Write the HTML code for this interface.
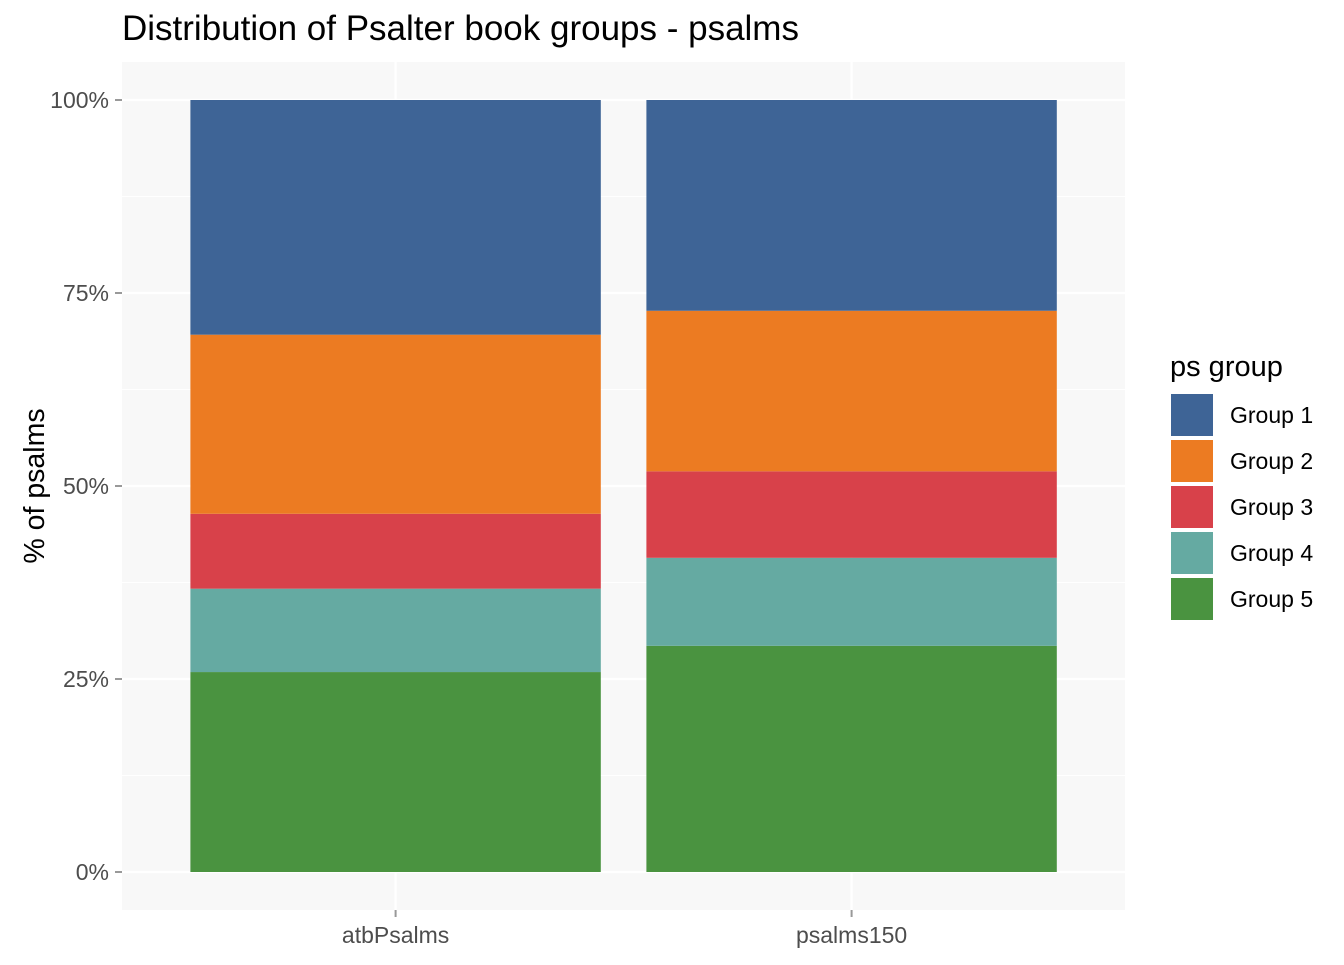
<!DOCTYPE html>
<html><head><meta charset="utf-8"><style>
body{margin:0;background:#fff;}
svg text{font-family:"Liberation Sans",Arial,sans-serif;}
</style></head><body>
<svg id="chart" width="1344" height="960">
<text x="122" y="40" font-size="35" fill="#000">Distribution of Psalter book groups - psalms</text>
<rect x="122" y="62" width="1003" height="848" fill="#f8f8f8"/>
<g id="grid"></g><g id="bars"></g><g id="axes"></g>
<text transform="translate(44,486) rotate(-90)" text-anchor="middle" font-size="28.5" fill="#000">% of psalms</text>
<text x="1170" y="376" font-size="29" fill="#000">ps group</text>
<g id="legend"></g>
</svg>
<script>
const categories=["atbPsalms","psalms150"];
const groups=["Group 1","Group 2","Group 3","Group 4","Group 5"];
const colors=["#3e6496","#ec7b22","#d8414a","#65aaa2","#4a9340"];
const group1=[30.4,27.3];
const group2=[23.2,20.8];
const group3=[9.7,11.2];
const group4=[10.8,11.4];
const group5=[25.9,29.3];
const yTicks=[0,25,50,75,100];
const yTickLabels=["0%","25%","50%","75%","100%"];
const series=[group1,group2,group3,group4,group5];
const NS="http://www.w3.org/2000/svg";
const y=v=>872-v/100*772;
const step=456, x0=122;
const xc=i=>x0+step*(0.6+i);
function mk(tag,attrs,parent){const e=document.createElementNS(NS,tag);for(const k in attrs)e.setAttribute(k,attrs[k]);parent.appendChild(e);return e;}
const grid=document.getElementById('grid'),bars=document.getElementById('bars'),axes=document.getElementById('axes'),legend=document.getElementById('legend');
for(let i=0;i<yTicks.length-1;i++){const m=(yTicks[i]+yTicks[i+1])/2;
const l=mk('line',{x1:122,x2:1125,y1:y(m),y2:y(m),stroke:'#fff','stroke-width':1},grid);

}
yTicks.forEach((t,i)=>{
const l=mk('line',{x1:122,x2:1125,y1:y(t),y2:y(t),stroke:'#fff','stroke-width':2.2},grid);


const tk=mk('line',{x1:115,x2:122,y1:y(t),y2:y(t),stroke:'#999','stroke-width':2},axes);


const tx=mk('text',{x:109,y:y(t)+8,'text-anchor':'end','font-size':23,fill:'#4d4d4d'},axes);
tx.textContent=yTickLabels[i];

});
categories.forEach((c,i)=>{
const l=mk('line',{x1:xc(i),x2:xc(i),y1:62,y2:910,stroke:'#fff','stroke-width':2.2},grid);


const tk=mk('line',{x1:xc(i),x2:xc(i),y1:910,y2:917,stroke:'#999','stroke-width':2},axes);


const tx=mk('text',{x:xc(i),y:943,'text-anchor':'middle','font-size':23,fill:'#4d4d4d'},axes);
tx.textContent=c;


let cum=0;
for(let g=series.length-1;g>=0;g--){const v=series[g][i];
const r=mk('rect',{x:xc(i)-step*0.45,width:step*0.9,y:y(cum+v),height:y(cum)-y(cum+v),fill:colors[g]},bars);


cum+=v;}});
groups.forEach((g,i)=>{
const r=mk('rect',{x:1171,y:394+46*i,width:42,height:42,fill:colors[i]},legend);


const t=mk('text',{x:1230,y:423+46*i,'font-size':23,fill:'#000'},legend);
t.textContent=g;

});
</script>
</body></html>
